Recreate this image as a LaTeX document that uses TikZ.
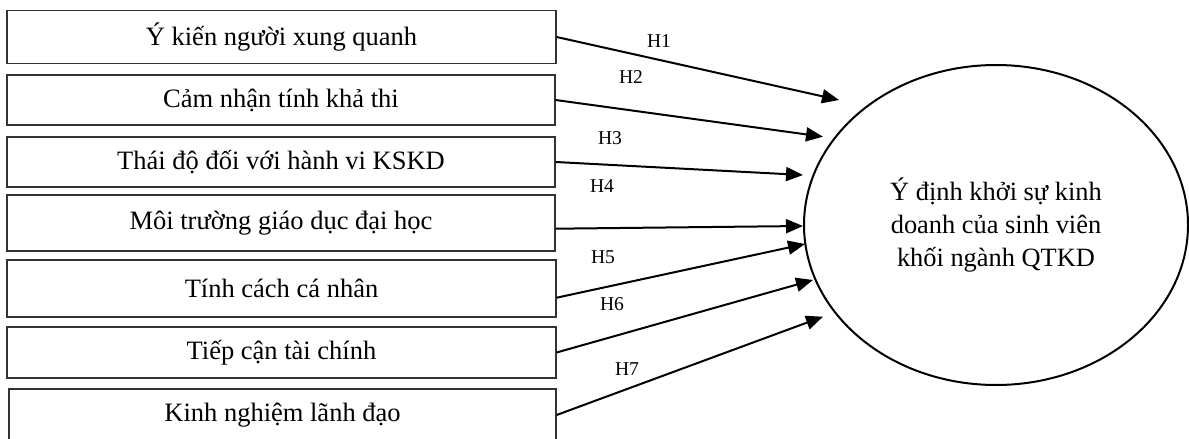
\documentclass[tikz,border=0pt]{standalone}
\usepackage{fontspec}
\setmainfont{Liberation Serif}
\usetikzlibrary{arrows.meta,shapes.geometric}
\tikzset{
  factor/.style={draw=black!80, line width=0.6pt, inner sep=0pt,
    font=\fontsize{13.25}{16}\selectfont},
  hypo/.style={-{Triangle[length=8.5pt,width=7pt]}, line width=1pt},
  hlabel/.style={inner sep=0pt, font=\fontsize{9.8}{12}\selectfont}
}
\begin{document}
\begin{tikzpicture}[x=0.5pt,y=-0.5pt]
    \useasboundingbox (0,0) rectangle (1189,439);
    % factors
    \node[factor, minimum width=274.5pt, minimum height=26.3pt] (b1) at (281.5,37)    {Ý kiến người xung quanh};
    \node[factor, minimum width=274pt,   minimum height=25pt]   (b2) at (281,100)     {Cảm nhận tính khả thi};
    \node[factor, minimum width=274pt,   minimum height=25pt]   (b3) at (281,162)     {Thái độ đối với hành vi KSKD};
    \node[factor, minimum width=274pt,   minimum height=28pt]   (b4) at (281,223)     {Môi trường giáo dục đại học};
    \node[factor, minimum width=274.5pt, minimum height=28.5pt] (b5) at (281.5,288.5) {Tính cách cá nhân};
    \node[factor, minimum width=274.5pt, minimum height=25.5pt] (b6) at (281.5,352.5) {Tiếp cận tài chính};
    \node[factor, minimum width=273.5pt, minimum height=26pt]   (b7) at (282.5,415)   {Kinh nghiệm lãnh đạo};
    % intention
    \node[draw, ellipse, line width=1pt, minimum width=192pt, minimum height=160pt, inner sep=0pt,
          align=center, font=\fontsize{13.2}{16.5}\selectfont] (goal) at (996,225)
          {Ý định khởi sự kinh\\doanh của sinh viên\\khối ngành QTKD};
    % arrow tips
    \coordinate (t1) at (839,100);
    \coordinate (t2) at (823,136.7);
    \coordinate (t3) at (803,175);
    \coordinate (t4) at (803,226);
    \coordinate (t5) at (805,244);
    \coordinate (t6) at (813,280);
    \coordinate (t7) at (823,316.7);
    \draw[hypo] (b1.east) -- (t1);
    \draw[hypo] (b2.east) -- (t2);
    \draw[hypo] (b3.east) -- (t3);
    \draw[hypo] ([yshift=-2.85pt]b4.east) -- (t4);
    \draw[hypo] ([yshift=-4.6pt]b5.east) -- (t5);
    \draw[hypo] (b6.east) -- (t6);
    \draw[hypo] (b7.east) -- (t7);
    % hypotheses
    \node[hlabel] (h1) at (659,40.7)  {H1};
    \node[hlabel] (h2) at (631,76.7)  {H2};
    \node[hlabel] (h3) at (610,137.7) {H3};
    \node[hlabel] (h4) at (602,186)   {H4};
    \node[hlabel] (h5) at (603,256.7) {H5};
    \node[hlabel] (h6) at (612,304)   {H6};
    \node[hlabel] (h7) at (627,368.7) {H7};
\end{tikzpicture}
\end{document}
